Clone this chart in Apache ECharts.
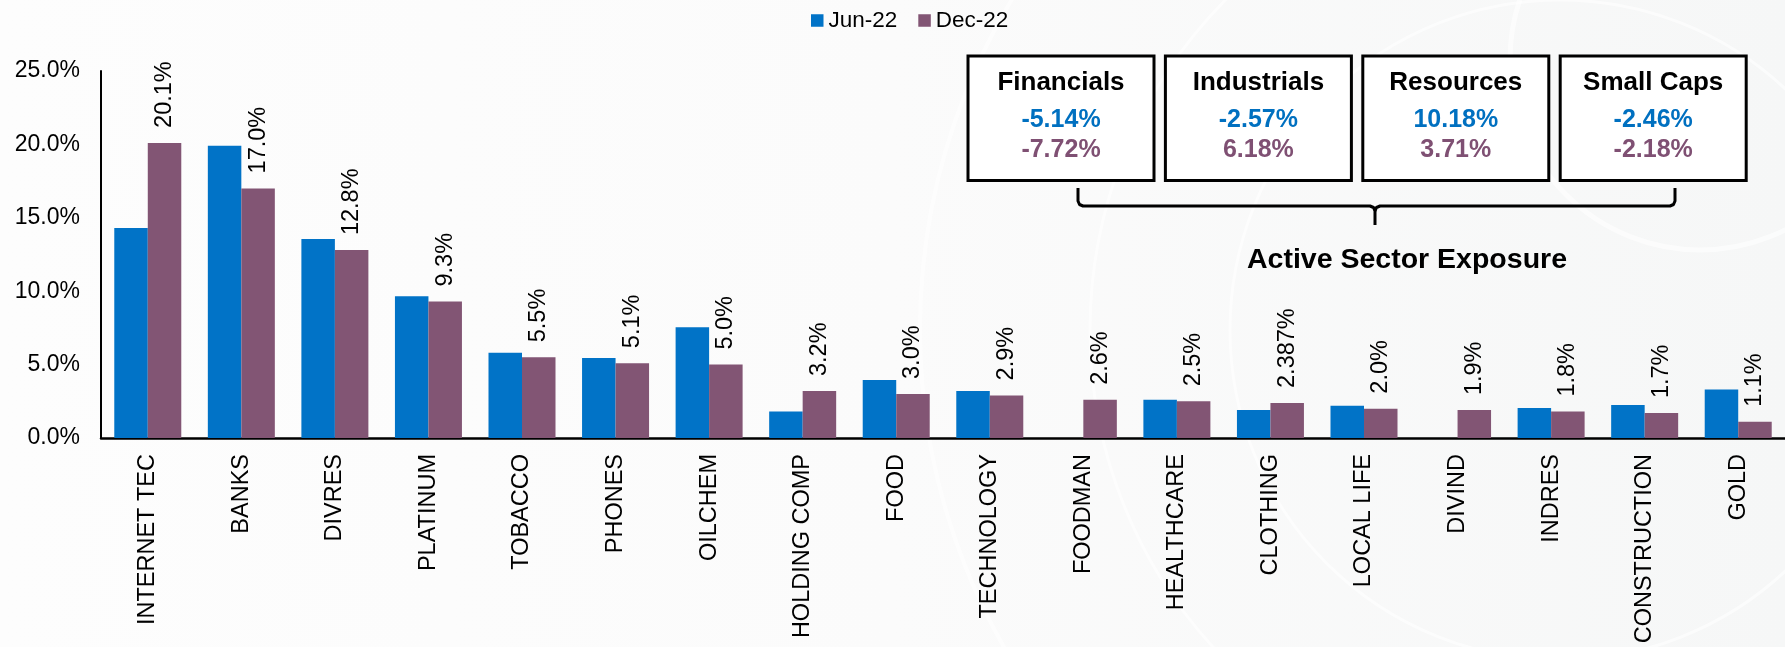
<!DOCTYPE html>
<html>
<head>
<meta charset="utf-8">
<title>Sector weights Jun-22 vs Dec-22</title>
<script src="https://cdn.jsdelivr.net/npm/echarts@6/dist/echarts.min.js"></script>
<style>
  html, body { margin: 0; padding: 0; background: #fafbfb; }
  #chart { width: 1785px; height: 647px; }
</style>
</head>
<body>
<div id="chart"></div>
<script>
// Sector categories along the x axis
const sectors = ['INTERNET TEC', 'BANKS', 'DIVRES', 'PLATINUM', 'TOBACCO', 'PHONES', 'OILCHEM',
  'HOLDING COMP', 'FOOD', 'TECHNOLOGY', 'FOODMAN', 'HEALTHCARE', 'CLOTHING', 'LOCAL LIFE',
  'DIVIND', 'INDRES', 'CONSTRUCTION', 'GOLD'];

// Portfolio weight (%) per sector
const jun22 = [14.3, 19.9, 13.55, 9.65, 5.8, 5.45, 7.55, 1.8, 3.95, 3.2, 0, 2.6, 1.9, 2.2, 0, 2.05, 2.25, 3.3];
const dec22 = [20.1, 17.0, 12.8, 9.3, 5.5, 5.1, 5.0, 3.2, 3.0, 2.9, 2.6, 2.5, 2.387, 2.0, 1.9, 1.8, 1.7, 1.1];

// Y axis ticks (%)
const yTicks = [0, 5, 10, 15, 20, 25];

// Active sector exposure summary
const groupNames = ['Financials', 'Industrials', 'Resources', 'Small Caps'];
const groupJun = ['-5.14%', '-2.57%', '10.18%', '-2.46%'];
const groupDec = ['-7.72%', '6.18%', '3.71%', '-2.18%'];

const FONT = 'Liberation Sans, Arial, Helvetica, sans-serif';
const BLUE = '#0173C7';
const PURPLE = '#825574';

function pctLabel(v) {
  const s = String(v);
  const dec = s.indexOf('.') >= 0 ? s.split('.')[1].length : 0;
  return Number(v).toFixed(Math.max(1, dec)) + '%';
}

const graphics = [];

// faint watermark rings in the background
const rings = [
  { cx: 1560, cy: 330, r: 640, w: 4 },
  { cx: 1560, cy: 330, r: 470, w: 3 },
  { cx: 1560, cy: 330, r: 330, w: 3 },
  { cx: 1700, cy: 60, r: 190, w: 5 }
];
rings.forEach(function (g) {
  graphics.push({
    type: 'circle', silent: true, z: -10,
    shape: { cx: g.cx, cy: g.cy, r: g.r },
    style: { fill: 'none', stroke: '#ffffff', lineWidth: g.w, opacity: 0.6 }
  });
});

// summary boxes
const boxX0 = 968, boxPitch = 197.4, boxW = 186, boxY = 56, boxH = 124.5;
groupNames.forEach(function (name, i) {
  const x = boxX0 + i * boxPitch;
  const cx = x + boxW / 2;
  graphics.push({
    type: 'rect', z: 10,
    shape: { x: x, y: boxY, width: boxW, height: boxH },
    style: { fill: '#ffffff', stroke: '#000000', lineWidth: 3 }
  });
  graphics.push({
    type: 'text', z: 11, x: cx, y: 83,
    style: { text: name, fill: '#000000', font: 'bold 26px ' + FONT, align: 'center', verticalAlign: 'middle' }
  });
  graphics.push({
    type: 'text', z: 11, x: cx, y: 120.5,
    style: { text: groupJun[i], fill: '#0070C0', font: 'bold 25px ' + FONT, align: 'center', verticalAlign: 'middle' }
  });
  graphics.push({
    type: 'text', z: 11, x: cx, y: 150,
    style: { text: groupDec[i], fill: '#7F5073', font: 'bold 25px ' + FONT, align: 'center', verticalAlign: 'middle' }
  });
});

// brace under the boxes
const braceStyle = { fill: 'none', stroke: '#000000', lineWidth: 3, lineJoin: 'round' };
graphics.push({
  type: 'polyline', z: 10,
  shape: { points: [[1078, 188], [1078, 201], [1079.5, 204.5], [1083, 206], [1370, 206], [1373.5, 207.5], [1375, 211], [1375, 225]] },
  style: braceStyle
});
graphics.push({
  type: 'polyline', z: 10,
  shape: { points: [[1375, 211], [1376.5, 207.5], [1380, 206], [1670, 206], [1673.5, 204.5], [1675, 201], [1675, 188]] },
  style: braceStyle
});
graphics.push({
  type: 'text', z: 11, x: 1407, y: 260,
  style: { text: 'Active Sector Exposure', fill: '#000000', font: 'bold 28.5px ' + FONT, align: 'center', verticalAlign: 'middle' }
});

const chart = echarts.init(document.getElementById('chart'), null, { renderer: 'canvas' });
chart.setOption({
  backgroundColor: {
    type: 'linear', x: 0, y: 0, x2: 1, y2: 0,
    colorStops: [
      { offset: 0, color: '#fdfdfd' },
      { offset: 0.5, color: '#fbfbfb' },
      { offset: 1, color: '#f6f7f7' }
    ]
  },
  animation: false,
  textStyle: { fontFamily: FONT },
  legend: {
    data: ['Jun-22', 'Dec-22'],
    left: 811, top: 9, padding: 0,
    itemWidth: 12.5, itemHeight: 12.5, itemGap: 21,
    icon: 'rect',
    textStyle: { fontSize: 22.5, color: '#000', fontFamily: FONT }
  },
  grid: { left: 101, right: -9, top: 71, bottom: 209, containLabel: false },
  xAxis: {
    type: 'category',
    data: sectors,
    axisLine: { show: true, lineStyle: { color: '#000', width: 2.5 } },
    axisTick: { show: false },
    axisLabel: { interval: 0, rotate: 90, margin: 16, fontSize: 23.5, color: '#000', fontFamily: FONT }
  },
  yAxis: {
    type: 'value',
    min: yTicks[0], max: yTicks[yTicks.length - 1], interval: yTicks[1] - yTicks[0],
    axisLine: { show: true, lineStyle: { color: '#000', width: 2 } },
    axisTick: { show: false },
    splitLine: { show: false },
    axisLabel: { margin: 21, fontSize: 23, color: '#000', fontFamily: FONT,
      formatter: function (v) { return v.toFixed(1) + '%'; } }
  },
  series: [
    {
      name: 'Jun-22', type: 'bar', data: jun22,
      barWidth: 33.5, barGap: '0%',
      itemStyle: { color: BLUE }
    },
    {
      name: 'Dec-22', type: 'bar', data: dec22,
      barWidth: 33.5, barGap: '0%',
      itemStyle: { color: PURPLE },
      label: {
        show: true, position: 'top', rotate: 90, align: 'left', verticalAlign: 'middle',
        distance: 15, fontSize: 23.5, color: '#000', fontFamily: FONT,
        formatter: function (p) { return pctLabel(p.value); }
      }
    }
  ],
  graphic: graphics
});
</script>
</body>
</html>
